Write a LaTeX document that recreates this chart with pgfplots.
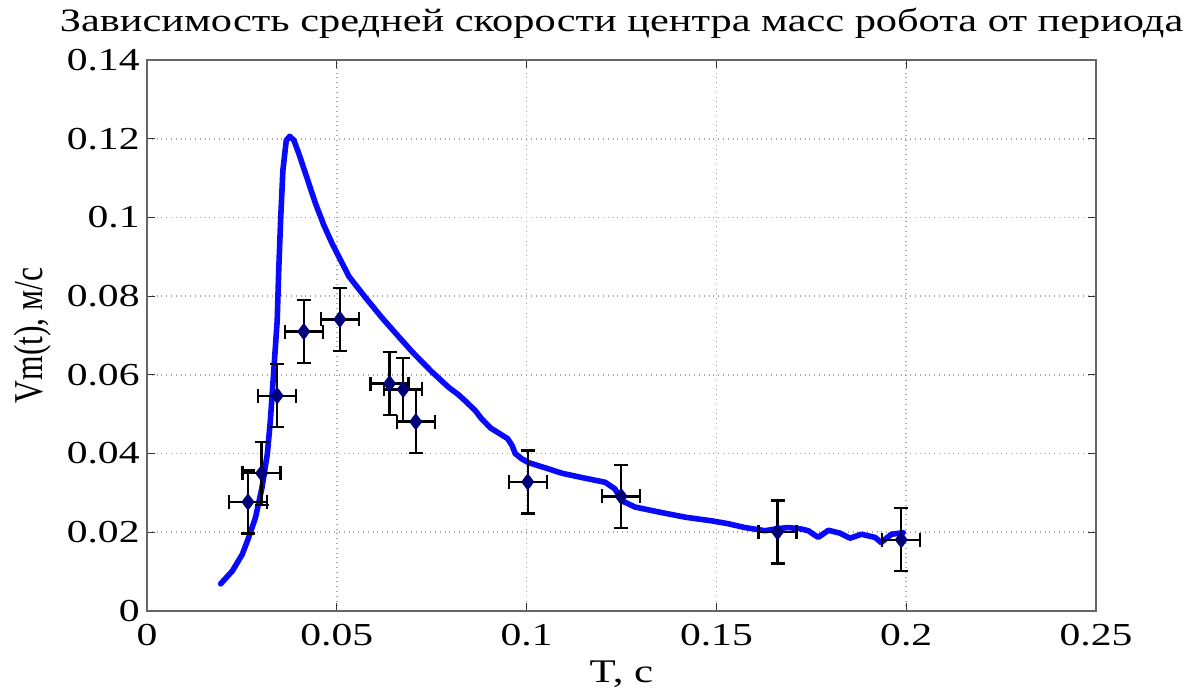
\documentclass[border=0pt]{standalone}
\usepackage{fontspec}
\setmainfont{Liberation Serif}[FakeStretch=1.3]
\newfontfamily\ylfont{Liberation Serif}[FakeStretch=0.77]
\usepackage{pgfplots}
\pgfplotsset{compat=1.18}
\definecolor{curveblue}{RGB}{10,10,250}
\definecolor{marknavy}{RGB}{0,0,120}
\begin{document}
\fontsize{16pt}{19pt}\selectfont
\begin{tikzpicture}
\path[use as bounding box] (-73.5pt,-38.5pt) rectangle (525pt,305.5pt);
\begin{axis}[
  scale only axis, width=474.5pt, height=275.5pt,
  xmin=0, xmax=0.25, ymin=0, ymax=0.14,
  xtick={0,0.05,0.1,0.15,0.2,0.25},
  xticklabels={0,0.05,0.1,0.15,0.2,0.25},
  ytick={0,0.02,0.04,0.06,0.08,0.1,0.12,0.14},
  yticklabels={0,0.02,0.04,0.06,0.08,0.1,0.12,0.14},
  scaled ticks=false,
  tick align=inside, major tick length=4pt,
  tick style={black!80, line width=0.6pt},
  axis line style={black!60, line width=0.9pt},
  grid=major,
  grid style={gray!70, dotted, line width=0.8pt},
  xticklabel style={font=\fontsize{16pt}{19pt}\selectfont, anchor=base, yshift=-17.5pt, inner sep=0pt},
  yticklabel style={font=\fontsize{16pt}{19pt}\selectfont, anchor=east, inner sep=0pt, xshift=-3.5pt},
  /pgf/number format/assume math mode=true,
  title={Зависимость средней скорости центра масс робота от периода},
  title style={font=\fontsize{16.3pt}{19pt}\selectfont, at={(axis description cs:0.5,1.030)}, anchor=base, inner sep=0pt},
  xlabel={T, с},
  xlabel style={font=\fontsize{16.5pt}{19pt}\selectfont, at={(axis description cs:0.5,-0.129)}, anchor=base, inner sep=0pt},
  ylabel={Vm(t), м/с},
  ylabel style={font=\ylfont\fontsize{20.5pt}{24pt}\selectfont, at={(axis description cs:-0.11,0.5)}, anchor=base, inner sep=0pt},
]
\addplot[curveblue, line width=2.8pt, line join=round, line cap=round] coordinates {
(0.0194,0.0069) (0.0225,0.0102) (0.0251,0.0144) (0.0268,0.0187) (0.0286,0.0238)
(0.0303,0.0314) (0.0317,0.0399) (0.0325,0.0484) (0.0334,0.0611) (0.0343,0.0738)
(0.0347,0.0865) (0.0352,0.0993) (0.0358,0.1120) (0.0367,0.1196) (0.0376,0.1206)
(0.0387,0.1196) (0.0400,0.1162) (0.0422,0.1099) (0.0444,0.1035) (0.0466,0.0980)
(0.0488,0.0933) (0.0532,0.0850) (0.0575,0.0797) (0.0619,0.0745) (0.0663,0.0697)
(0.0700,0.0657) (0.0750,0.0608) (0.0795,0.0568) (0.0820,0.0550) (0.0838,0.0534)
(0.0865,0.0509) (0.0880,0.0490) (0.0905,0.0465) (0.0930,0.0450) (0.0950,0.0438)
(0.0962,0.0420) (0.0970,0.0400) (0.0988,0.0386) (0.1005,0.0377) (0.1058,0.0361)
(0.1093,0.0350) (0.1146,0.0339) (0.1207,0.0327) (0.1233,0.0310) (0.1251,0.0280)
(0.1286,0.0264) (0.1356,0.0250) (0.1420,0.0238) (0.1488,0.0229) (0.1530,0.0222)
(0.1575,0.0212) (0.1628,0.0204) (0.1660,0.0209) (0.1689,0.0212) (0.1720,0.0209)
(0.1742,0.0204) (0.1768,0.0187) (0.1795,0.0205) (0.1825,0.0198) (0.1852,0.0185)
(0.1882,0.0195) (0.1918,0.0187) (0.1934,0.0174) (0.1961,0.0195) (0.1992,0.0199)
};
\addplot[only marks, mark=diamond*, mark size=4pt,
  mark options={fill=marknavy, draw=marknavy},
  error bars/.cd,
    x dir=both, x fixed=0.005,
    y dir=both, y fixed=0.008,
    error bar style={black, line width=1.2pt},
    error mark options={black, line width=1.2pt, mark size=3.5pt, rotate=90},
] coordinates {
(0.0266,0.0277) (0.0302,0.0350) (0.0343,0.0547) (0.0413,0.0710) (0.0508,0.0741)
(0.0639,0.0578) (0.0675,0.0563) (0.0708,0.0481) (0.1003,0.0328) (0.1249,0.0291)
(0.1661,0.0201) (0.1987,0.0181)
};
\end{axis}
\end{tikzpicture}
\end{document}
